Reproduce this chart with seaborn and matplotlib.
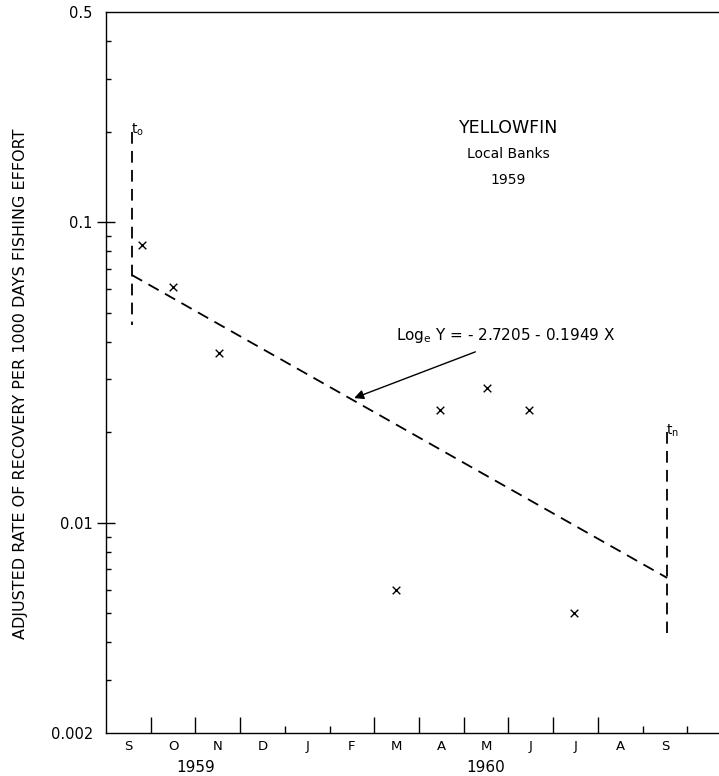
import matplotlib
matplotlib.use("Agg")
import matplotlib.pyplot as plt
import matplotlib.ticker as mticker
import seaborn as sns

# month axis: 0 = start of September 1959
month_labels = ["S", "O", "N", "D", "J", "F", "M", "A", "M", "J", "J", "A", "S"]
year_labels = ["1959", "1960"]
year_pos = [2.0, 8.5]

# observed adjusted recovery rates (x marks)
obs_month = [0.80, 1.50, 2.53, 6.49, 7.47, 8.52, 9.46, 10.47]
obs_rate = [0.084, 0.061, 0.0367, 0.0060, 0.0237, 0.0281, 0.0237, 0.0050]

# fitted line, Log_e Y = -2.7205 - 0.1949 X, drawn between t_o and t_n
fit_month = [0.58, 12.55]
fit_rate = [0.0667, 0.00656]

t0_month = [0.58, 0.58]
t0_rate = [0.2, 0.0455]
tn_month = [12.55, 12.55]
tn_rate = [0.02, 0.0043]

sns.set_theme(style="ticks")
plt.rcParams["font.family"] = ["DejaVu Sans"]
plt.rcParams["text.color"] = "black"
plt.rcParams["axes.labelcolor"] = "black"
plt.rcParams["xtick.color"] = "black"
plt.rcParams["ytick.color"] = "black"

fig = plt.figure(figsize=(7.19, 7.76), dpi=100)
ax = fig.add_axes([106 / 719, 43 / 776, 613 / 719, 721 / 776])

dash = (0, (6.5, 4))
for xs, ys in [(fit_month, fit_rate), (t0_month, t0_rate), (tn_month, tn_rate)]:
    sns.lineplot(x=xs, y=ys, ax=ax, color="black", lw=1.3, linestyle=dash,
                 estimator=None, sort=False)

sns.scatterplot(x=obs_month, y=obs_rate, ax=ax, marker="x", color="black",
                s=30, linewidth=1.0)

ax.set_yscale("log")
ax.set_ylim(0.002, 0.5)
ax.set_xlim(0, 13.71)

ax.yaxis.set_major_locator(mticker.FixedLocator([0.002, 0.01, 0.1, 0.5]))
ax.yaxis.set_major_formatter(mticker.FixedFormatter(["0.002", "0.01", "0.1", "0.5"]))
ax.yaxis.set_minor_locator(mticker.LogLocator(base=10, subs=range(2, 10), numticks=20))
ax.yaxis.set_minor_formatter(mticker.NullFormatter())
ax.tick_params(axis="y", which="major", direction="inout", length=13, width=1,
               pad=3, labelsize=10.5)
ax.tick_params(axis="y", which="minor", direction="in", length=3.5, width=1)
ticks = ax.yaxis.get_major_ticks()
ticks[0].tick1line.set_visible(False)
ticks[-1].tick1line.set_visible(False)

ax.xaxis.set_major_locator(mticker.FixedLocator([1, 2, 3, 6, 7, 8, 9, 10, 11]))
ax.xaxis.set_minor_locator(mticker.FixedLocator([4, 5, 12, 13]))
ax.xaxis.set_major_formatter(mticker.NullFormatter())
ax.tick_params(axis="x", which="major", direction="in", length=11.5, width=1)
ax.tick_params(axis="x", which="minor", direction="in", length=5, width=1)

trans = ax.get_xaxis_transform()
for i, m in enumerate(month_labels):
    ax.text(i + 0.5, -0.019, m, transform=trans, ha="center", va="center",
            fontsize=9.5)
for yl, xp in zip(year_labels, year_pos):
    ax.text(xp, -0.048, yl, transform=trans, ha="center", va="center",
            fontsize=11)

ax.set_ylabel("ADJUSTED RATE OF RECOVERY PER 1000 DAYS FISHING EFFORT",
              fontsize=11.5)
ax.yaxis.set_label_coords(-0.128, 0.485)

for side in ["left", "bottom", "top"]:
    ax.spines[side].set_color("black")
    ax.spines[side].set_linewidth(1.0)
ax.spines["right"].set_visible(False)

ax.text(9.0, 0.205, "YELLOWFIN", ha="center", va="center", fontsize=12.5)
ax.text(9.0, 0.169, "Local Banks", ha="center", va="center", fontsize=10)
ax.text(9.0, 0.138, "1959", ha="center", va="center", fontsize=10)

ax.annotate(r"Log$_\mathregular{e}$ Y = - 2.7205 - 0.1949 X",
            xy=(5.55, 0.026), xytext=(8.93, 0.0421),
            ha="center", va="center", fontsize=11,
            arrowprops=dict(arrowstyle="-|>", color="black", lw=1.0,
                            shrinkA=8, shrinkB=0, mutation_scale=14,
                            relpos=(0.45, 0.0)))

ax.text(0.55, 0.19, r"t$_\mathregular{o}$", ha="left", va="bottom", fontsize=10)
ax.text(12.52, 0.019, r"t$_\mathregular{n}$", ha="left", va="bottom", fontsize=10)

ax.set_facecolor("white")
fig.patch.set_facecolor("white")
fig.savefig("out.png", dpi=100)
